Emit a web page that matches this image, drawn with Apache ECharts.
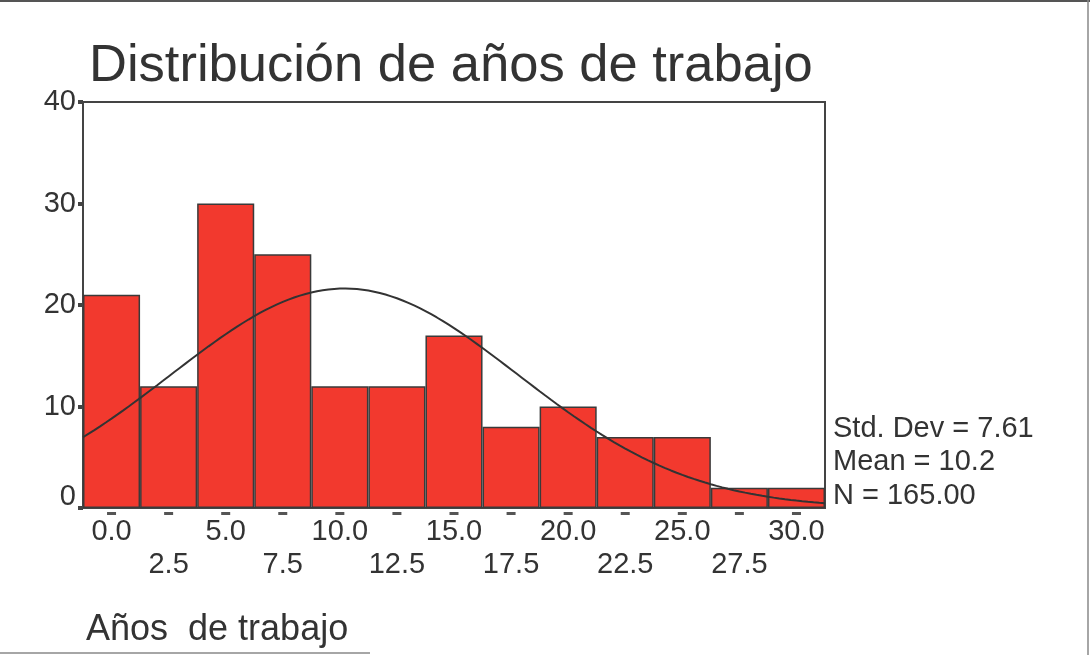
<!DOCTYPE html>
<html>
<head>
<meta charset="utf-8">
<title>Distribución de años de trabajo</title>
<script src="https://cdn.jsdelivr.net/npm/echarts@6/dist/echarts.min.js"></script>
<style>
  html, body { margin: 0; padding: 0; background: #ffffff; }
  #chart { width: 1090px; height: 655px; }
</style>
</head>
<body>
<div id="chart"></div>
<script>
// Histogram bins (centre of each 2.5-year interval) and their counts
const binLabels = ['0.0', '2.5', '5.0', '7.5', '10.0', '12.5', '15.0', '17.5', '20.0', '22.5', '25.0', '27.5', '30.0'];
const binCenters = [0, 2.5, 5, 7.5, 10, 12.5, 15, 17.5, 20, 22.5, 25, 27.5, 30];
const counts = [21, 12, 30, 25, 12, 12, 17, 8, 10, 7, 7, 2, 2];
const yTicks = [0, 10, 20, 30, 40];

// Summary statistics shown beside the plot
const stdDev = 7.61;
const mean = 10.2;
const nCases = 165;
const binWidth = 2.5;

const FONT = "'Liberation Sans', Arial, sans-serif";
const INK = '#333333';

// Fitted normal curve, scaled to the histogram counts
const xMin = binCenters[0] - binWidth / 2;
const xMax = binCenters[binCenters.length - 1] + binWidth / 2;
const curve = [];
for (let i = 0; i <= 130; i++) {
  const x = xMin + (xMax - xMin) * i / 130;
  const z = (x - mean) / stdDev;
  const y = nCases * binWidth / (stdDev * Math.sqrt(2 * Math.PI)) * Math.exp(-0.5 * z * z);
  curve.push([x, y]);
}

const chart = echarts.init(document.getElementById('chart'), null, { renderer: 'canvas' });

chart.setOption({
  backgroundColor: '#ffffff',
  animation: false,
  title: {
    text: 'Distribución de años de trabajo',
    left: 84,
    top: 35,
    textStyle: { fontFamily: FONT, fontSize: 52.5, fontWeight: 'normal', color: INK }
  },
  grid: {
    left: 83, right: 265, top: 102, bottom: 147,
    show: true, borderColor: '#444', borderWidth: 2, backgroundColor: 'transparent'
  },
  xAxis: [
    {
      type: 'category',
      data: binLabels,
      boundaryGap: true,
      axisLine: { show: true, onZero: false, lineStyle: { color: '#444', width: 2 } },
      axisTick: { show: false },
      axisLabel: {
        interval: 0,
        margin: 4,
        formatter: function (value, index) {
          return index % 2 === 0
            ? '{d| }\n{v|' + value + '}'
            : '{d| }\n{s| }\n{v|' + value + '}';
        },
        rich: {
          d: { width: 9, height: 3, lineHeight: 3, fontSize: 2, backgroundColor: '#555' },
          s: { fontSize: 10, lineHeight: 33 },
          v: { fontFamily: FONT, fontSize: 29, lineHeight: 33, color: INK }
        }
      },
      splitLine: { show: false }
    },
    {
      type: 'value',
      min: xMin,
      max: xMax,
      show: false
    }
  ],
  yAxis: {
    type: 'value',
    min: 0,
    max: 40,
    interval: 10,
    axisLine: { show: true, onZero: false, lineStyle: { color: '#444', width: 2 } },
    axisTick: { show: true, inside: false, length: 5, lineStyle: { color: '#444', width: 4 } },
    splitLine: { show: false },
    axisLabel: {
      margin: 7,
      formatter: function (v) {
        return v === 0 ? '{z|0}' : '{n|' + v + '}';
      },
      rich: {
        n: { fontFamily: FONT, fontSize: 29, color: INK },
        z: { fontFamily: FONT, fontSize: 29, color: INK, padding: [0, 0, 22, 0] }
      }
    }
  },
  series: [
    {
      type: 'bar',
      xAxisIndex: 0,
      data: counts,
      barCategoryGap: '0%',
      itemStyle: { color: '#f2392e', borderColor: '#3a3a3a', borderWidth: 1.5 },
      z: 2
    },
    {
      type: 'line',
      xAxisIndex: 1,
      data: curve,
      showSymbol: false,
      smooth: false,
      lineStyle: { color: '#333333', width: 2 },
      z: 3
    }
  ],
  graphic: [
    {
      type: 'text',
      left: 833,
      top: 412,
      style: {
        text: 'Std. Dev = ' + stdDev.toFixed(2) + '\nMean = ' + mean.toFixed(1) + '\nN = ' + nCases.toFixed(2),
        fontFamily: FONT,
        fontSize: 29,
        lineHeight: 33.5,
        fill: INK
      }
    },
    {
      type: 'text',
      left: 86,
      top: 612,
      style: {
        text: 'Años  de trabajo',
        fontFamily: FONT,
        fontSize: 36,
        fill: INK
      }
    },
    // page frame edges
    { type: 'line', shape: { x1: 0, y1: 1, x2: 1090, y2: 1 }, style: { stroke: '#555', lineWidth: 2 } },
    { type: 'line', shape: { x1: 1088, y1: 0, x2: 1088, y2: 655 }, style: { stroke: '#888', lineWidth: 1.5 } },
    { type: 'line', shape: { x1: 0, y1: 653, x2: 370, y2: 653 }, style: { stroke: '#888', lineWidth: 1.5 } }
  ]
});
</script>
</body>
</html>
